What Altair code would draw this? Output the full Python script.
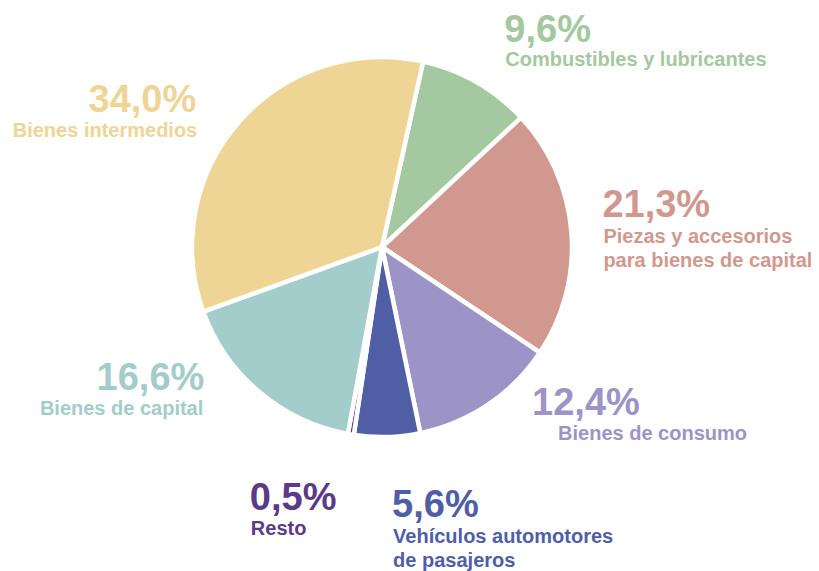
import altair as alt
import pandas as pd
import math

# ---- data ----
categories = [
    "Combustibles y lubricantes",
    "Piezas y accesorios para bienes de capital",
    "Bienes de consumo",
    "Vehículos automotores de pasajeros",
    "Resto",
    "Bienes de capital",
    "Bienes intermedios",
]
label_names = [
    "Combustibles y lubricantes",
    "Piezas y accesorios\npara bienes de capital",
    "Bienes de consumo",
    "Vehículos automotores\nde pasajeros",
    "Resto",
    "Bienes de capital",
    "Bienes intermedios",
]
shares = [9.6, 21.3, 12.4, 5.6, 0.5, 16.6, 34.0]

# ---- styles ----
colors = ["#A4C8A0", "#D19890", "#9C94C7", "#4F5EA5", "#5B3A8A", "#A3CDCA", "#EFD595"]
# label layout: (align, dx, dy for percent, dx, dy for name) relative to slice mid-angle at pie edge
label_layout = [
    ("left", 28, -40, 29, -16),
    ("left", 31, -15, 32, 11),
    ("left", 44, 10, 70, 35),
    ("left", 5, 80, 6, 106),
    ("left", -101, 76, -100, 101),
    ("right", -55, -2, -56, 23),
    ("right", -43, -10, -42, 15),
]

df = pd.DataFrame({
    "idx": list(range(len(categories))),
    "cat": categories,
    "name": label_names,
    "share": shares,
    "pct": [f"{v:.1f}".replace(".", ",") + "%" for v in shares],
})

START = math.radians(12.5)
theta_scale = alt.Scale(domain=[0, 100], range=[START, START + 2 * math.pi])
R = 190
FONT = "Liberation Sans"

base = alt.Chart(df)

pie = base.mark_arc(outerRadius=R, stroke="white", strokeWidth=4.5).encode(
    theta=alt.Theta("share:Q", stack=True, scale=theta_scale),
    order=alt.Order("idx:Q"),
    color=alt.Color("cat:N", sort=categories,
                    scale=alt.Scale(domain=categories, range=colors), legend=None),
)

layers = [pie]
for i, cat in enumerate(categories):
    align, pdx, pdy, ndx, ndy = label_layout[i]
    safe = cat.replace("'", "\\'")
    pct_layer = base.transform_calculate(
        t=f"datum.cat == '{safe}' ? datum.pct : ''"
    ).mark_text(
        radius=R, align=align, baseline="alphabetic", dx=pdx, dy=pdy,
        font=FONT, fontWeight="bold", fontSize=38, color=colors[i],
    ).encode(
        theta=alt.Theta("share:Q", stack=True, scale=theta_scale),
        order=alt.Order("idx:Q"),
        text="t:N",
    )
    name_layer = base.transform_calculate(
        t=f"datum.cat == '{safe}' ? datum.name : ''"
    ).mark_text(
        radius=R, align=align, baseline="alphabetic", dx=ndx, dy=ndy,
        font=FONT, fontWeight="bold", fontSize=20, color=colors[i],
        lineBreak="\n", lineHeight=24,
    ).encode(
        theta=alt.Theta("share:Q", stack=True, scale=theta_scale),
        order=alt.Order("idx:Q"),
        text="t:N",
    )
    layers += [pct_layer, name_layer]

chart = alt.layer(*layers).properties(
    width=748, height=478,
    autosize=alt.AutoSizeParams(type="none"),
    padding={"left": 0, "top": 0, "right": 55, "bottom": 85},
    background="white",
).configure_view(stroke=None)

chart.save("out.html", embed_options={"renderer": "svg", "actions": False})
